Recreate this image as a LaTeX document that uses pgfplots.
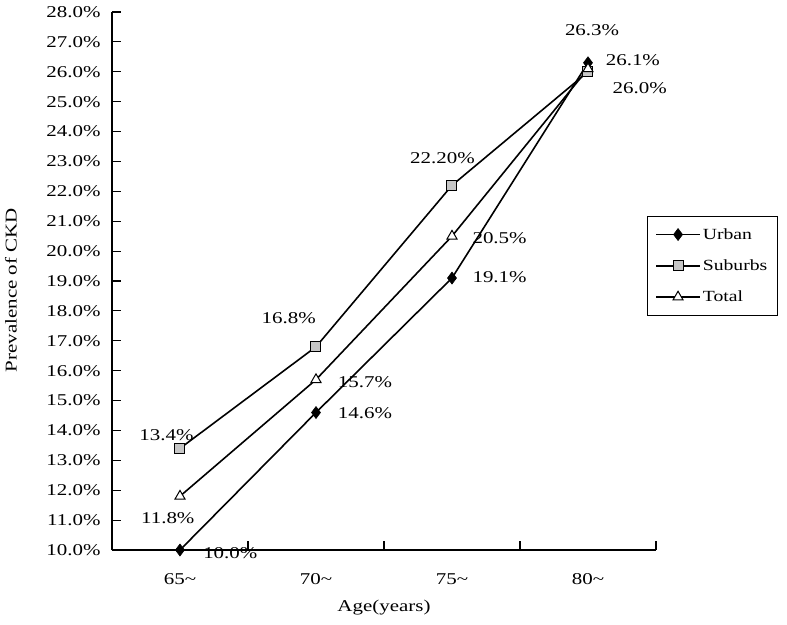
\documentclass[border=0pt]{standalone}
\usepackage{fontspec}
\setmainfont{Liberation Serif}[FakeStretch=1.27]
\usepackage{pgfplots}
\pgfplotsset{compat=1.18}

\newcommand{\lbl}{\fontsize{16.5}{19}\selectfont}

\pgfplotsset{
  legend image code/.code={%
    \draw[mark repeat=2,mark phase=2] plot coordinates {(0pt,0pt)(22pt,0pt)(44pt,0pt)};}
}

\begin{document}
\begin{tikzpicture}
\useasboundingbox (-112pt,-74pt) rectangle (675pt,550pt);
\begin{axis}[
    at={(0pt,0pt)}, anchor=south west,
    scale only axis, width=544pt, height=538pt,
    clip=false,
    axis lines*=left,
    axis line style={line width=1.2pt},
    xmin=-0.5, xmax=3.5,
    ymin=10, ymax=28,
    xtick={-0.5,0.5,1.5,2.5,3.5},
    x tick label as interval,
    xticklabels={65\textasciitilde,70\textasciitilde,75\textasciitilde,80\textasciitilde},
    ytick={10,11,...,28},
    tick align=inside,
    major tick length=9pt,
    tick style={line width=1.2pt, black},
    /pgf/number format/assume math mode=true,
    yticklabel={\pgfmathprintnumber[fixed,fixed zerofill,precision=1]{\tick}\%},
    yticklabel style={font=\lbl, xshift=-8pt},
    xticklabel style={font=\lbl, anchor=center, yshift=-29pt},
    xlabel={Age(years)},
    xlabel style={font=\lbl, at={(axis description cs:0.5,0)}, anchor=center, yshift=-58pt},
    ylabel={Prevalence of CKD},
    ylabel style={font=\lbl, at={(axis description cs:-0.186,0.483)}, anchor=center},
    legend cell align=left,
    legend style={at={(0.983,0.621)}, anchor=north west, draw=black, line width=1pt,
                  font=\fontsize{15.5}{18}\selectfont, row sep=15pt,
                  inner xsep=8pt, inner ysep=10pt},
]

\addplot[black, line width=1.6pt, mark=diamond*, mark size=6pt,
         mark options={solid, fill=black, line width=0.6pt}]
    coordinates {(0,10.0)(1,14.6)(2,19.1)(3,26.3)};
\addlegendentry{Urban}

\addplot[black, line width=1.6pt, mark=square*, mark size=5pt,
         mark options={solid, fill=gray!45, line width=1pt}]
    coordinates {(0,13.4)(1,16.8)(2,22.2)(3,26.0)};
\addlegendentry{Suburbs}

\addplot[black, line width=1.6pt, mark=triangle*, mark size=5.8pt,
         mark options={solid, fill=white, line width=1pt}]
    coordinates {(0,11.8)(1,15.7)(2,20.5)(3,26.1)};
\addlegendentry{Total}

% data labels
\node[font=\lbl] at (axis cs:3.03,27.40) {26.3\%};
\node[font=\lbl] at (axis cs:3.33,26.39) {26.1\%};
\node[font=\lbl] at (axis cs:3.38,25.46) {26.0\%};
\node[font=\lbl] at (axis cs:1.93,23.11) {22.20\%};
\node[font=\lbl] at (axis cs:2.35,20.44) {20.5\%};
\node[font=\lbl] at (axis cs:2.35,19.13) {19.1\%};
\node[font=\lbl] at (axis cs:0.80,17.76) {16.8\%};
\node[font=\lbl] at (axis cs:1.36,15.62) {15.7\%};
\node[font=\lbl] at (axis cs:1.36,14.58) {14.6\%};
\node[font=\lbl] at (axis cs:-0.10,13.85) {13.4\%};
\node[font=\lbl] at (axis cs:-0.09,11.07) {11.8\%};
\node[font=\lbl] at (axis cs:0.37,9.90) {10.0\%};

\end{axis}
\end{tikzpicture}
\end{document}
